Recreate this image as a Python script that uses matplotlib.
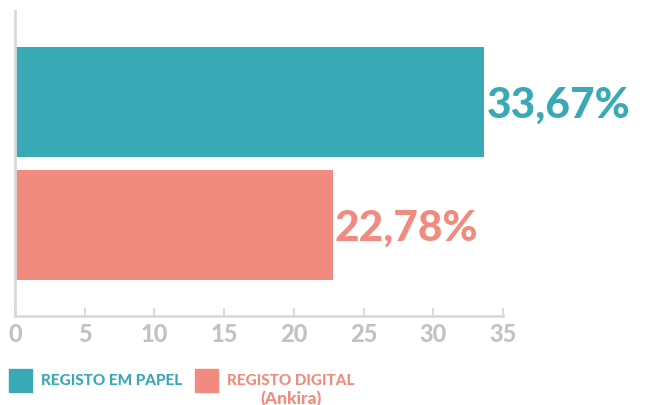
import matplotlib
matplotlib.use("Agg")
import matplotlib.pyplot as plt
from matplotlib.patches import Rectangle

# data
categories = ["REGISTO DIGITAL\n(Ankira)", "REGISTO EM PAPEL"]
values = [22.78, 33.67]
value_labels = ["22,78%", "33,67%"]
colors = ["#f28b7f", "#38a9b5"]
xticks = [0, 5, 10, 15, 20, 25, 30, 35]

TICK = "#bfc3c5"
SPINE = "#d9dadb"

plt.rcParams["font.family"] = ["Lato", "DejaVu Sans"]

fig = plt.figure(figsize=(6.56, 4.06), dpi=100)
ax = fig.add_axes([15 / 656, 89 / 406, 488 / 656, 305 / 406])

ypos = [0, 1]
ax.barh(ypos, values, height=0.894, color=colors)
ax.set_xlim(0, 35)
ax.set_ylim(-0.74, 1.74)

for y, v, lab, c in zip(ypos, values, value_labels, colors):
    ax.text(v + 0.15, y - 0.02, lab, color=c, fontsize=30.5, fontweight=900,
            va="center", ha="left")

ax.set_xticks(xticks)
ax.set_xticklabels([str(t) for t in xticks], color=TICK, fontsize=17,
                   fontweight=900)
ax.set_yticks([])
ax.tick_params(axis="x", direction="in", length=6, width=1.5, color=SPINE, pad=4)
for s in ["top", "right"]:
    ax.spines[s].set_visible(False)
for s in ["left", "bottom"]:
    ax.spines[s].set_color(SPINE)
    ax.spines[s].set_linewidth(2)

# legend drawn by hand to match the layout
def px(x, y):
    return x / 656, 1 - y / 406

for (x0, c, lines) in [(9, colors[1], categories[1]), (195, colors[0], categories[0])]:
    lx, ly = px(x0, 393)
    fig.patches.append(Rectangle((lx, ly), 23 / 656, 23 / 406,
                                 transform=fig.transFigure, color=c))
    first, *rest = lines.split("\n")
    tx, ty = px(x0 + 32, 381)
    t = fig.text(tx, ty, first, color=c, fontsize=11, fontweight=900,
                 va="center", ha="left")
    if rest:
        fig.canvas.draw()
        bb = t.get_window_extent()
        cx = (bb.x0 + bb.x1) / 2 / fig.bbox.width
        fig.text(cx, px(0, 399)[1], rest[0], color=c, fontsize=12.5,
                 fontweight=900, va="center", ha="center")

fig.savefig("out.png", dpi=100)
